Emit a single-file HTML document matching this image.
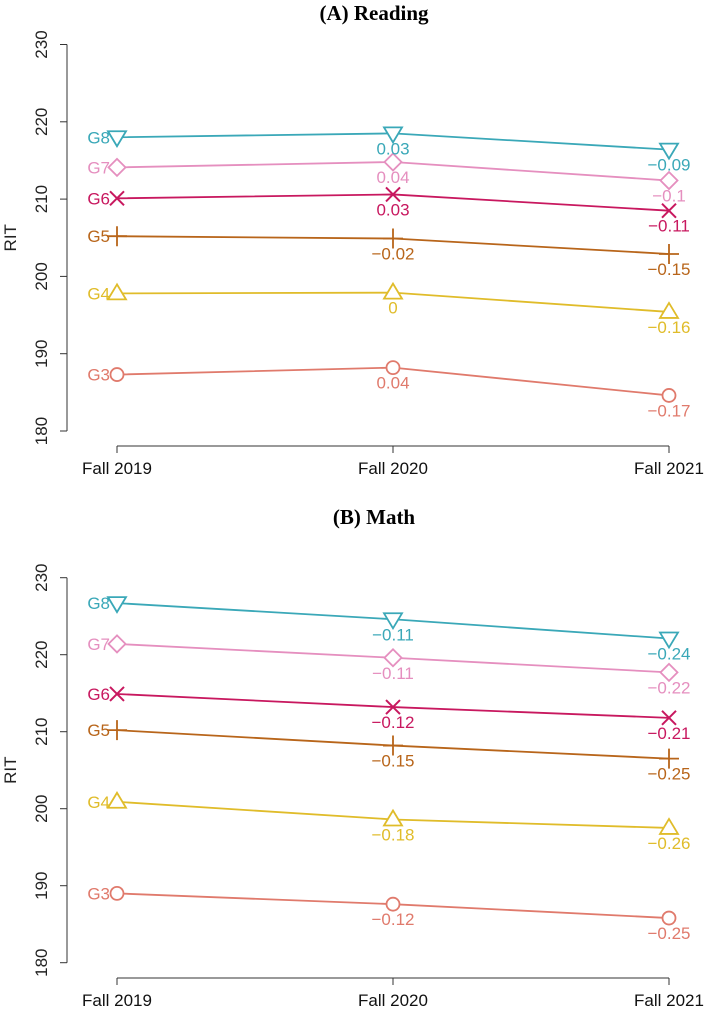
<!DOCTYPE html>
<html><head><meta charset="utf-8"><style>
html,body{margin:0;padding:0;background:#fff;}
svg text{font-family:"Liberation Sans",sans-serif;}
</style></head><body>
<svg id="chart" width="708" height="1011" viewBox="0 0 708 1011" xmlns="http://www.w3.org/2000/svg"></svg>
<script>
const grades = ["G3","G4","G5","G6","G7","G8"];
const years = ["Fall 2019","Fall 2020","Fall 2021"];
const yTicks = [180,190,200,210,220,230];
const readingG3 = [187.3,188.2,184.6];
const readingG4 = [197.8,197.9,195.4];
const readingG5 = [205.2,204.9,202.9];
const readingG6 = [210.1,210.6,208.5];
const readingG7 = [214.1,214.8,212.4];
const readingG8 = [218.0,218.5,216.4];
const readingLabels = [["0.04","-0.17"],["0","-0.16"],["-0.02","-0.15"],["0.03","-0.11"],["0.04","-0.1"],["0.03","-0.09"]];
const mathG3 = [189.0,187.6,185.8];
const mathG4 = [200.9,198.6,197.5];
const mathG5 = [210.2,208.2,206.5];
const mathG6 = [214.9,213.2,211.8];
const mathG7 = [221.4,219.6,217.7];
const mathG8 = [226.7,224.6,222.1];
const mathLabels = [["-0.12","-0.25"],["-0.18","-0.26"],["-0.15","-0.25"],["-0.12","-0.21"],["-0.11","-0.22"],["-0.11","-0.24"]];

const colors = ["#e07a6c","#e0bc2a","#b8651a","#c8185f","#e58fbf","#3aa8b8"];
const shapes = ["circle","tri","plus","x","diamond","tridown"];
const NS = "http://www.w3.org/2000/svg";
const svg = document.getElementById("chart");
function mk(tag, attrs, parent){const e=document.createElementNS(NS,tag);for(const k in attrs)e.setAttribute(k,attrs[k]);(parent||svg).appendChild(e);return e;}

function panel(key, title, titleY, yTop, yBot, xAxisY, series, labels){
  const g = mk("g",{});
  
  
  const xs = i => 117 + i*276;
  const ys = v => yBot - (v-180)*(yBot-yTop)/50;
  const t = mk("text",{x:374,y:titleY,"text-anchor":"middle","font-size":"21","font-weight":"bold",style:"font-family:'Liberation Serif',serif"},g);
  t.textContent = title;
  
  
  const ya = mk("g",{},g);
  
  
  mk("line",{x1:67,x2:67,y1:ys(230),y2:ys(180),stroke:"#333","stroke-width":1},ya);
  yTicks.forEach(v=>{
    mk("line",{x1:60,x2:67,y1:ys(v),y2:ys(v),stroke:"#333"},ya);
    const tt = mk("text",{x:0,y:0,"text-anchor":"middle","font-size":"17",fill:"#222",transform:`translate(47,${ys(v)}) rotate(-90)`},ya);
    tt.textContent = v;
  });
  const yt = mk("text",{x:0,y:0,"text-anchor":"middle","font-size":"17",fill:"#222",transform:`translate(16,${(ys(230)+ys(180))/2}) rotate(-90)`},ya);
  yt.textContent = "RIT";
  
  
  const xa = mk("g",{},g);
  
  
  mk("line",{x1:xs(0),x2:xs(2),y1:xAxisY,y2:xAxisY,stroke:"#333"},xa);
  years.forEach((y,i)=>{
    mk("line",{x1:xs(i),x2:xs(i),y1:xAxisY,y2:xAxisY+7,stroke:"#333"},xa);
    const tt = mk("text",{x:xs(i),y:xAxisY+28,"text-anchor":"middle","font-size":"17",fill:"#111"},xa);
    tt.textContent = y;
  });
  series.forEach((vals,si)=>{
    const c = colors[si];
    const sg = mk("g",{},g);
    
    
    mk("polyline",{points:vals.map((v,i)=>xs(i)+","+ys(v)).join(" "),fill:"none",stroke:c,"stroke-width":1.8},sg);
    vals.forEach((v,i)=>{
      const x=xs(i), y=ys(v), r=7;
      let m;
      const sh = shapes[si];
      if(sh==="circle") m=mk("circle",{cx:x,cy:y,r:6.5,fill:"#fff",stroke:c,"stroke-width":1.8},sg);
      else if(sh==="tri") m=mk("polygon",{points:`${x},${y-9} ${x-9},${y+6} ${x+9},${y+6}`,fill:"#fff",stroke:c,"stroke-width":1.8},sg);
      else if(sh==="tridown") m=mk("polygon",{points:`${x},${y+9} ${x-9},${y-6} ${x+9},${y-6}`,fill:"#fff",stroke:c,"stroke-width":1.8},sg);
      else if(sh==="diamond") m=mk("polygon",{points:`${x},${y-8.5} ${x+8.5},${y} ${x},${y+8.5} ${x-8.5},${y}`,fill:"#fff",stroke:c,"stroke-width":1.8},sg);
      else if(sh==="plus") m=mk("path",{d:`M${x-10},${y}H${x+10}M${x},${y-10}V${y+10}`,stroke:c,"stroke-width":1.8,fill:"none"},sg);
      else m=mk("path",{d:`M${x-r},${y-r}L${x+r},${y+r}M${x-r},${y+r}L${x+r},${y-r}`,stroke:c,"stroke-width":2,fill:"none"},sg);
      
      
      if(i>0){
        const lt = mk("text",{x:x,y:y+21,"text-anchor":"middle","font-size":"17",fill:c},sg);
        lt.textContent = labels[si][i-1].replace("-","\u2212");
        
        
      }
    });
    const gl = mk("text",{x:110,y:ys(vals[0])+6,"text-anchor":"end","font-size":"17",fill:c},sg);
    gl.textContent = grades[si];
    
    
  });
}
panel("reading","(A) Reading",20,44.5,431,446,[readingG3,readingG4,readingG5,readingG6,readingG7,readingG8],readingLabels);
panel("math","(B) Math",524,577.7,962.7,978,[mathG3,mathG4,mathG5,mathG6,mathG7,mathG8],mathLabels);
</script>
</body></html>
